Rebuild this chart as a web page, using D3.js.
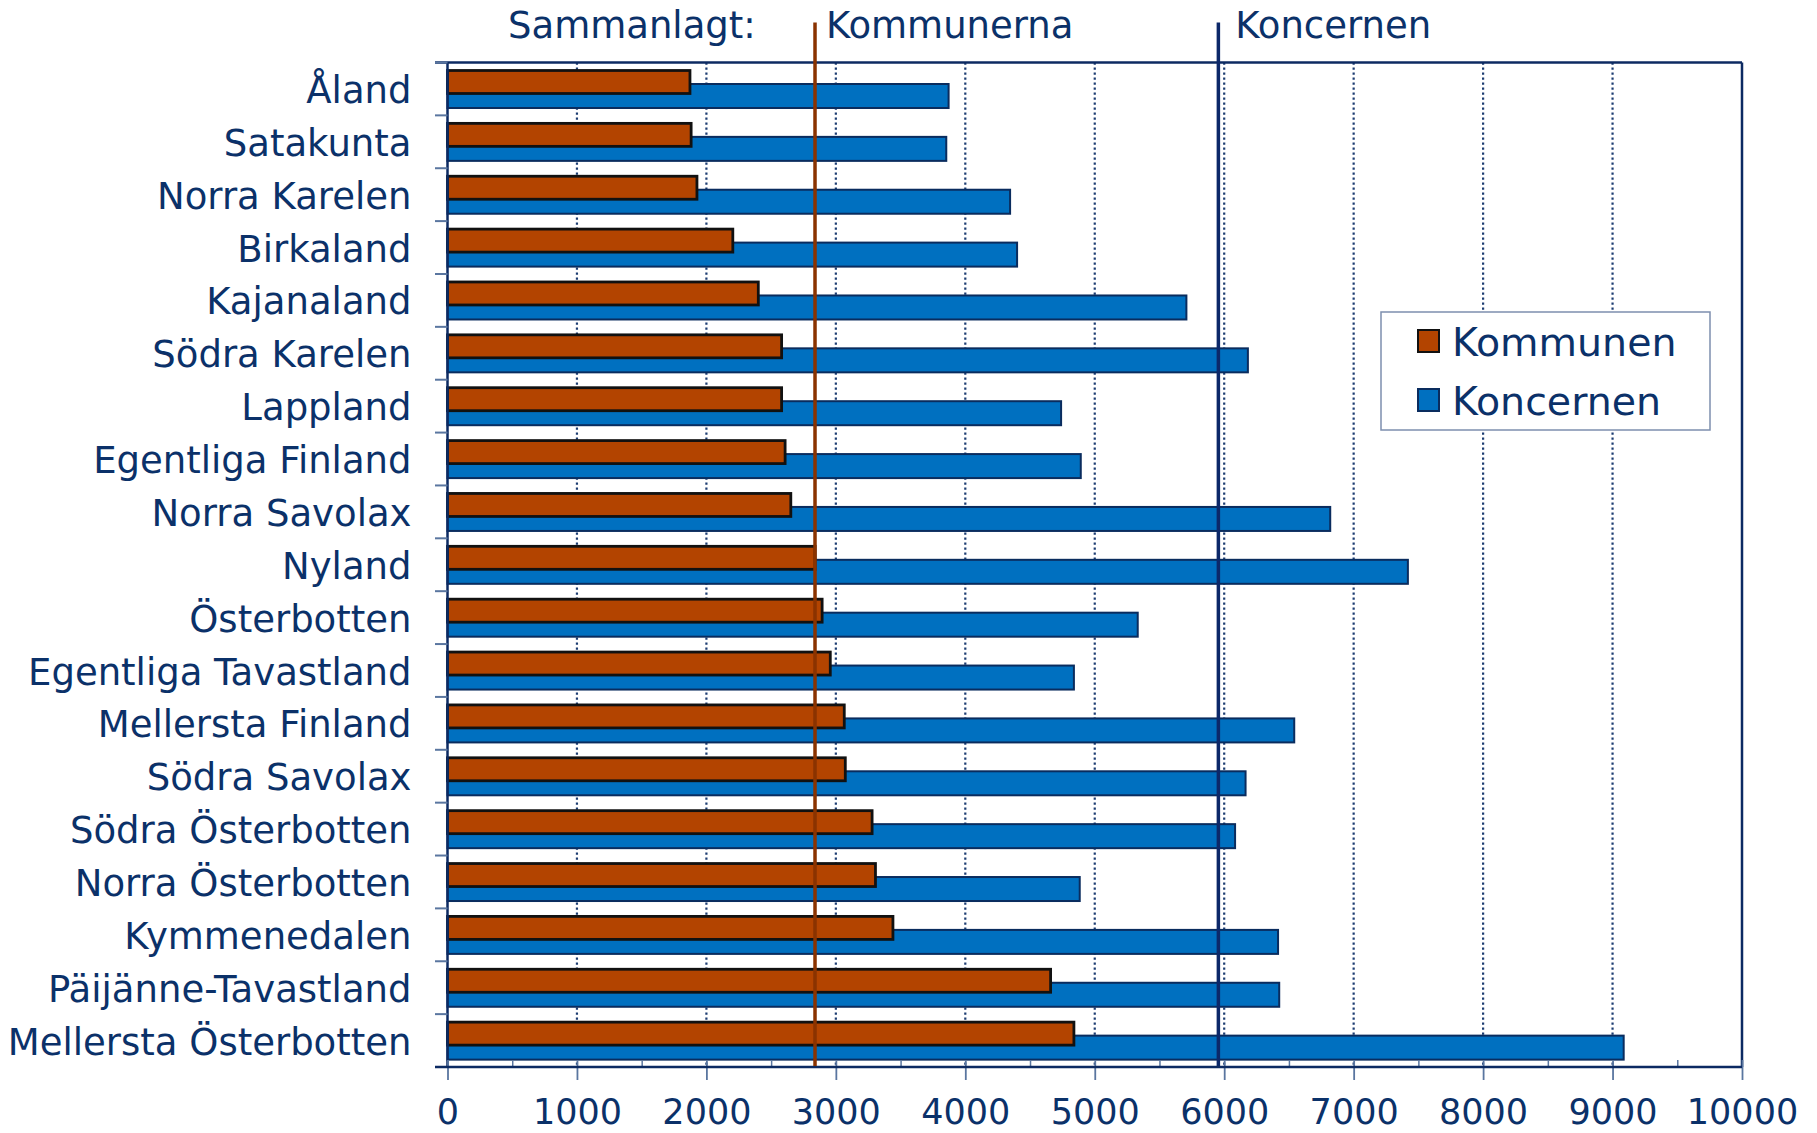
<!DOCTYPE html>
<html>
<head>
<meta charset="utf-8">
<script src="https://cdn.jsdelivr.net/npm/d3@7"></script>
<style>
  html, body { margin: 0; padding: 0; background: #fff; }
  svg { display: block; font-family: "DejaVu Sans", Verdana, sans-serif; }
</style>
</head>
<body>
<div id="chart"></div>
<script>
// regions, top to bottom
var regions = ["Åland", "Satakunta", "Norra Karelen", "Birkaland", "Kajanaland",
  "Södra Karelen", "Lappland", "Egentliga Finland", "Norra Savolax", "Nyland",
  "Österbotten", "Egentliga Tavastland", "Mellersta Finland", "Södra Savolax",
  "Södra Österbotten", "Norra Österbotten", "Kymmenedalen", "Päijänne-Tavastland",
  "Mellersta Österbotten"];

var kommunen = [1873, 1882, 1927, 2204, 2401, 2581, 2581, 2608, 2652, 2840,
  2894, 2957, 3065, 3073, 3280, 3306, 3441, 4659, 4839];

var koncernen = [3871, 3853, 4346, 4400, 5708, 6183, 4740, 4892, 6819, 7419,
  5332, 4839, 6541, 6165, 6084, 4884, 6416, 6425, 9086];

// totals ("Sammanlagt")
var totalKommunerna = 2839,
    totalKoncernen = 5955;

var xTicks = [0, 1000, 2000, 3000, 4000, 5000, 6000, 7000, 8000, 9000, 10000];
var xMinor = [500, 1500, 2500, 3500, 4500, 5500, 6500, 7500, 8500, 9500];
var seriesNames = ["Kommunen", "Koncernen"];

var width = 1817, height = 1133;
var plotLeft = 447.5, plotRight = 1742, plotTop = 62.5, plotBottom = 1067;

var textCol = "#0b3169",
    navy = "#0c2a62",
    orange = "#b34400",
    blue = "#0070c0",
    brown = "#8a3300";

var svg = d3.select("#chart").append("svg")
    .attr("width", width)
    .attr("height", height);

var x = d3.scaleLinear().domain([0, 10000]).range([plotLeft, plotRight]);
var y = d3.scaleBand().domain(regions).range([plotTop, plotBottom]).padding(0);

// dotted gridlines
svg.append("g").selectAll("line")
  .data(xTicks.slice(1, -1))
  .enter().append("line")
    .attr("x1", function(d) { return x(d); })
    .attr("x2", function(d) { return x(d); })
    .attr("y1", plotTop)
    .attr("y2", plotBottom)
    .attr("stroke", "#1d3d72")
    .attr("stroke-width", 2.2)
    .attr("stroke-dasharray", "2.2,2.8");

// bars: blue first, orange overlapping on top
svg.append("g").selectAll("rect")
  .data(regions)
  .enter().append("rect")
    .attr("x", x(0))
    .attr("y", function(d) { return y(d) + 21.5; })
    .attr("width", function(d, i) { return x(koncernen[i]) - x(0); })
    .attr("height", 24)
    .attr("fill", blue)
    .attr("stroke", "#0a2c5e")
    .attr("stroke-width", 2);

svg.append("g").selectAll("rect")
  .data(regions)
  .enter().append("rect")
    .attr("x", x(0))
    .attr("y", function(d) { return y(d) + 8; })
    .attr("width", function(d, i) { return x(kommunen[i]) - x(0); })
    .attr("height", 23)
    .attr("fill", orange)
    .attr("stroke", "#111")
    .attr("stroke-width", 2.8);

// plot frame
svg.append("line")
    .attr("x1", 435).attr("x2", plotRight)
    .attr("y1", plotTop).attr("y2", plotTop)
    .attr("stroke", navy).attr("stroke-width", 2.5);
svg.append("line")
    .attr("x1", plotRight).attr("x2", plotRight)
    .attr("y1", plotTop).attr("y2", plotBottom)
    .attr("stroke", navy).attr("stroke-width", 2.5);
svg.append("line")
    .attr("x1", plotLeft).attr("x2", plotLeft)
    .attr("y1", plotTop).attr("y2", plotBottom)
    .attr("stroke", navy).attr("stroke-width", 2.5);

// category boundary ticks
svg.append("g").selectAll("line")
  .data(regions)
  .enter().append("line")
    .attr("x1", 435).attr("x2", plotLeft)
    .attr("y1", function(d) { return y(d); })
    .attr("y2", function(d) { return y(d); })
    .attr("stroke", "#5a76a0")
    .attr("stroke-width", 2);

// category labels
var yAxis = svg.append("g")
    .attr("transform", "translate(" + plotLeft + ",0)")
    .call(d3.axisLeft(y).tickSize(0).tickPadding(36));
yAxis.select(".domain").remove();
yAxis.selectAll("text")
    .attr("dy", "0.38em")
    .attr("fill", textCol)
    .style("font-size", "37px")
    .style("font-family", "DejaVu Sans, Verdana, sans-serif");

// x axis
var xAxisG = svg.append("g")
    .attr("transform", "translate(0," + plotBottom + ")");
xAxisG.append("g")
    .call(d3.axisBottom(x).tickValues(xMinor).tickSize(-7).tickFormat(""))
    .call(function(g) { g.select(".domain").remove(); })
    .selectAll("line").attr("stroke", "#5a76a0").attr("stroke-width", 1.5);
var major = xAxisG.append("g")
    .call(d3.axisBottom(x).tickValues(xTicks).tickSize(13).tickFormat(d3.format("d")));
major.select(".domain").remove();
major.selectAll("line")
    .attr("y1", -7)
    .attr("stroke", "#5a76a0")
    .attr("stroke-width", 1.8);
major.selectAll("text")
    .attr("y", 57)
    .attr("dy", 0)
    .attr("fill", textCol)
    .style("font-size", "35px")
    .style("font-family", "DejaVu Sans, Verdana, sans-serif");
xAxisG.append("line")
    .attr("x1", 435).attr("x2", plotRight)
    .attr("y1", 0).attr("y2", 0)
    .attr("stroke", navy).attr("stroke-width", 2.5);

// total reference lines
svg.append("line")
    .attr("x1", x(totalKommunerna)).attr("x2", x(totalKommunerna))
    .attr("y1", 22.5).attr("y2", plotBottom - 1)
    .attr("stroke", brown).attr("stroke-width", 3.5);
svg.append("line")
    .attr("x1", x(totalKoncernen)).attr("x2", x(totalKoncernen))
    .attr("y1", 22.5).attr("y2", plotBottom - 1)
    .attr("stroke", "#0c2869").attr("stroke-width", 3.5);

// header texts
var header = svg.append("g")
    .attr("fill", textCol)
    .style("font-size", "37px");
header.append("text").attr("x", 508).attr("y", 38).text("Sammanlagt:");
header.append("text").attr("x", x(totalKommunerna) + 11).attr("y", 38).text("Kommunerna");
header.append("text").attr("x", x(totalKoncernen) + 17).attr("y", 38).text("Koncernen");

// legend
var legend = svg.append("g").attr("transform", "translate(1381,312)");
legend.append("rect")
    .attr("width", 329).attr("height", 118)
    .attr("fill", "#fff")
    .attr("stroke", "#7d8fae")
    .attr("stroke-width", 1.5);
var items = legend.selectAll("g.item")
  .data(seriesNames)
  .enter().append("g")
    .attr("class", "item")
    .attr("transform", function(d, i) { return "translate(37," + (18 + i * 59) + ")"; });
items.append("rect")
    .attr("width", 21).attr("height", 22)
    .attr("fill", function(d, i) { return i === 0 ? orange : blue; })
    .attr("stroke", function(d, i) { return i === 0 ? "#111" : "#0a2c5e"; })
    .attr("stroke-width", 2);
items.append("text")
    .attr("x", 34)
    .attr("y", 26)
    .attr("fill", textCol)
    .style("font-size", "39.5px")
    .text(function(d) { return d; });
</script>
</body>
</html>
